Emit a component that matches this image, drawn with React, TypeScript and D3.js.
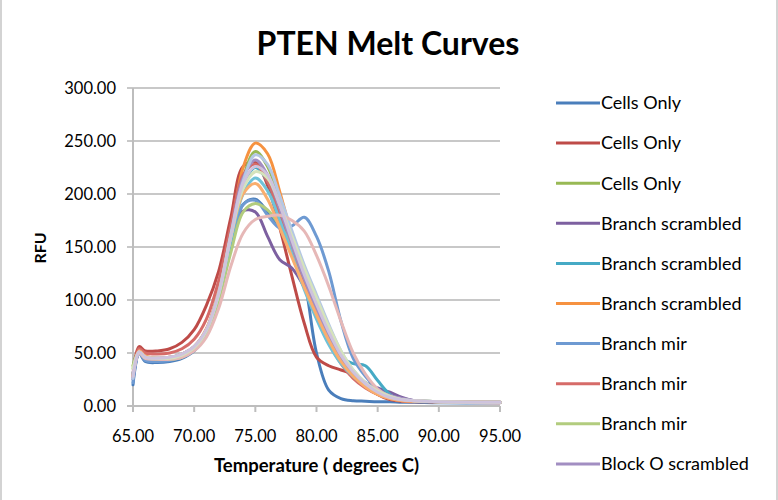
import React from "react";
import * as d3 from "d3";

const temps = [65, 65.5, 66, 67, 68, 69, 70, 71, 72, 73, 74, 75, 76, 77, 78, 79, 80, 81, 82, 83, 84, 85, 86, 87, 88, 90, 95];

const seriesNames = [
  "Cells Only", "Cells Only", "Cells Only",
  "Branch scrambled", "Branch scrambled", "Branch scrambled",
  "Branch mir", "Branch mir", "Branch mir",
  "Block O scrambled", "Block O scrambled", "Block O scrambled",
  "Block O mir", "Block O mir", "Block O mir", "Block O mir",
];

const s1 = [20, 50, 42, 41, 42, 45, 52, 68, 102, 150, 190, 195, 183, 168, 148, 118, 50, 15, 7, 5, 4.5, 4, 4, 3.5, 3.5, 3, 3];
const s2 = [30, 56, 52, 52, 54, 60, 72, 95, 127, 178, 226, 230, 208, 168, 122, 78, 46, 38, 34, 30, 20, 11, 6, 4.5, 4, 3.5, 3];
const s3 = [38, 52, 47, 44, 44, 47, 54, 70, 104, 158, 215, 240, 226, 194, 160, 128, 103, 75, 50, 32, 20, 12, 8, 6, 5, 4, 3.5];
const s4 = [25, 50, 45, 44, 45, 48, 55, 71, 105, 152, 184, 183, 160, 138, 130, 112, 86, 62, 44, 30, 22, 17, 13, 8, 5, 4, 3.5];
const s5 = [30, 51, 46, 44, 45, 48, 55, 71, 106, 158, 208, 225, 212, 180, 148, 116, 88, 62, 46, 40, 38, 24, 11, 6, 4.5, 4, 3.5];
const s6 = [28, 52, 47, 45, 46, 49, 56, 73, 108, 165, 225, 248, 238, 202, 160, 122, 92, 64, 43, 28, 18, 11, 7, 5, 4.5, 4, 3.5];
const s7 = [22, 50, 43, 42, 43, 46, 53, 69, 103, 150, 190, 194, 180, 168, 170, 178, 160, 127, 80, 45, 28, 16, 9, 6, 4.5, 4, 3.5];
const s8 = [28, 54, 50, 49, 50, 54, 63, 82, 118, 170, 218, 228, 212, 182, 148, 115, 86, 60, 40, 26, 17, 11, 7, 5, 4.5, 4, 3.5];
const s9 = [35, 51, 46, 44, 44, 46, 53, 68, 100, 145, 183, 191, 185, 170, 152, 128, 100, 72, 48, 31, 20, 13, 8, 6, 5, 4, 3.5];
const s10 = [27, 51, 46, 45, 46, 49, 56, 72, 107, 162, 215, 232, 218, 186, 152, 120, 92, 66, 46, 31, 21, 14, 10, 7, 5, 4, 3.5];
const s11 = [30, 51, 46, 45, 45, 48, 55, 71, 105, 157, 200, 215, 203, 175, 143, 110, 82, 58, 40, 28, 19, 12, 8, 6, 5, 4, 3.5];
const s12 = [28, 52, 47, 45, 46, 49, 56, 72, 107, 160, 200, 210, 195, 168, 140, 112, 86, 62, 42, 28, 18, 11, 7, 5, 4.5, 4, 3.5];
const s13 = [26, 51, 46, 45, 46, 49, 56, 72, 106, 162, 212, 237, 228, 198, 165, 133, 105, 77, 52, 34, 22, 14, 9, 6, 5, 4, 3.5];
const s14 = [30, 50, 45, 44, 44, 46, 52, 65, 92, 132, 163, 176, 179, 180, 175, 165, 142, 113, 80, 50, 30, 16, 9, 6, 5, 4, 3.5];
const s15 = [36, 51, 46, 45, 45, 48, 55, 71, 105, 160, 205, 221, 215, 190, 160, 130, 102, 75, 52, 34, 22, 14, 9, 6, 5, 4, 3.5];
const s16 = [28, 51, 46, 45, 46, 49, 56, 72, 106, 160, 210, 226, 218, 190, 156, 124, 96, 70, 48, 32, 21, 13, 8, 6, 5, 4, 3.5];

const seriesValues = [s1, s2, s3, s4, s5, s6, s7, s8, s9, s10, s11, s12, s13, s14, s15, s16];

const colors = [
  "#4A7EBB", "#BE4B48", "#98B954", "#7D60A0", "#46AAC5", "#F69240",
  "#6E9AD2", "#D66B68", "#B2CC7E", "#A28EC2", "#6FC2D8", "#F9AE6E",
  "#B4C7E4", "#E6B8B7", "#D5E3BB", "#CEC3DD",
];

const xTicks = [65, 70, 75, 80, 85, 90, 95];
const yTicks = [0, 50, 100, 150, 200, 250, 300];

const W = 778;
const H = 500;
const FONT = "Lato, 'Open Sans', sans-serif";

export default function App() {
  const x = d3.scaleLinear().domain([65, 95]).range([133, 500]);
  const y = d3.scaleLinear().domain([0, 300]).range([406, 88]);
  const fmt = d3.format(".2f");
  const line = d3
    .line<[number, number]>()
    .x((d) => x(d[0]))
    .y((d) => y(d[1]))
    .curve(d3.curveCatmullRom.alpha(0.5));

  const legendX = 556;
  const legendY0 = 103;
  const legendStep = 40.1;
  const legendItems = seriesNames
    .map((n, i) => ({ n, i, cy: legendY0 + i * legendStep }))
    .filter((d) => d.cy < H);

  return (
    <div>
      <style>{`body{margin:0}`}</style>
      <svg width={W} height={H} style={{ display: "block", background: "#fff" }} fontFamily={FONT}>
        <line x1={1} x2={1} y1={0} y2={H} stroke="#D3D3D3" strokeWidth={2} />
        <line x1={W - 1} x2={W - 1} y1={0} y2={H} stroke="#D3D3D3" strokeWidth={2} />

        <text x={388} y={55} textAnchor="middle" fontSize={32} fontWeight="bold" fill="#000">
          PTEN Melt Curves
        </text>

        {yTicks.map((t) => (
          <g key={"y" + t}>
            <line
              x1={127}
              x2={500}
              y1={y(t)}
              y2={y(t)}
              stroke={t === 0 ? "#BDBDBD" : "#C8C8C8"}
              strokeWidth={2}
            />
            <text x={116} y={y(t)} dy="0.35em" textAnchor="end" fontSize={16.5} fill="#000">
              {fmt(t)}
            </text>
          </g>
        ))}
        <line x1={133} x2={133} y1={88} y2={407} stroke="#BDBDBD" strokeWidth={2} />

        {xTicks.map((t) => (
          <g key={"x" + t}>
            <line x1={x(t)} x2={x(t)} y1={406} y2={412} stroke="#BDBDBD" strokeWidth={2} />
            <text x={x(t)} y={436} dy="0.35em" textAnchor="middle" fontSize={16.5} fill="#000">
              {fmt(t)}
            </text>
          </g>
        ))}

        {seriesValues.map((vals, i) => (
          <path
            key={"s" + i}
            d={line(temps.map((t, j) => [t, vals[j]] as [number, number])) || ""}
            fill="none"
            stroke={colors[i]}
            strokeWidth={3}
            strokeLinejoin="round"
            strokeLinecap="round"
          />
        ))}

        <text x={316.5} y={466} dy="0.35em" textAnchor="middle" fontSize={18.5} fontWeight="bold" fill="#000">
          Temperature ( degrees C)
        </text>
        <text
          transform={`translate(40,248) rotate(-90)`}
          textAnchor="middle"
          dy="0.35em"
          fontSize={16}
          fontWeight="bold"
          fill="#000"
        >
          RFU
        </text>

        {legendItems.map((d) => (
          <g key={"l" + d.i}>
            <line
              x1={legendX}
              x2={legendX + 44}
              y1={d.cy}
              y2={d.cy}
              stroke={colors[d.i]}
              strokeWidth={3}
            />
            <text x={legendX + 45} y={d.cy} dy="0.35em" fontSize={18} fill="#000">
              {d.n}
            </text>
          </g>
        ))}
      </svg>
    </div>
  );
}
